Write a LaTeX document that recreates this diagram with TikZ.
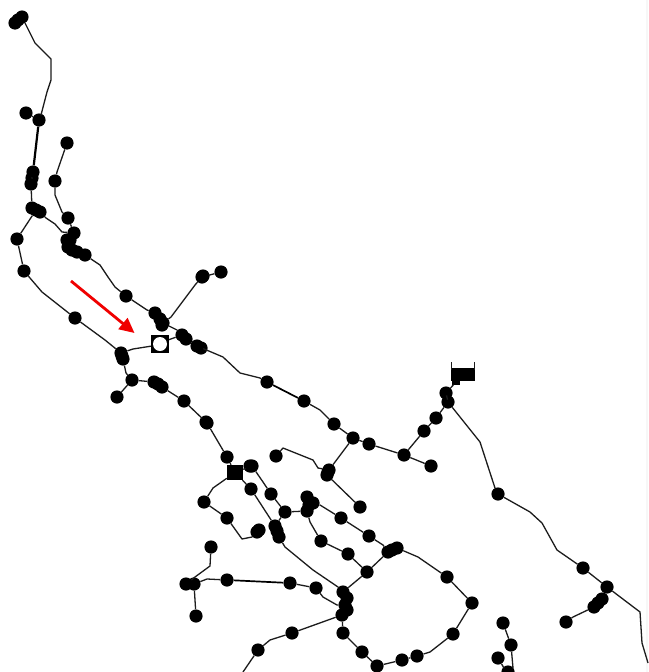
\documentclass[tikz,border=0pt]{standalone}
\usetikzlibrary{arrows.meta}
\definecolor{wire}{HTML}{1C1C1C}
\definecolor{mark}{HTML}{F00000}
\tikzset{
  dot/.style={circle,fill=black,inner sep=0pt,minimum size=13.2pt},
  wirepath/.style={draw=wire,line width=1.3pt,line join=round},
  heavywire/.style={draw=black,line width=2.2pt},
  hub/.style={rectangle,fill=black,inner sep=0pt},
  redarrow/.style={draw=mark,line width=2.8pt,-{Triangle[length=15pt,width=14pt]}},
  station/.style={rectangle,fill=black,inner sep=0pt,minimum size=18.5pt}
}
\begin{document}
\begin{tikzpicture}[x=1pt,y=-1pt]
\useasboundingbox (0,0) rectangle (648,672);
\fill[white] (0,0) rectangle (648,672);
\fill[black!3] (645.5,0) rectangle (648,672);
% stations
\foreach \n/\x/\y in {
 a1/22/17,a2/15/23,a2b/18/20,a3/26/113,a4/39/120,a5/33/172,a6/31/184,a5b/32/178,a7/32/208,a8/36/210,a9/40/212,
 a10/67/143,a11/55/181,a12/68/218,a13/74/233,a14/67/240,a15/68/247,a15b/70/240,a16/77/252,a17/85/255,a16b/72/250,
 a18/17/239,a19/24/271,a20/75/318,a21/126/296,a22/155/313,a23/160/319,a24/163/323,a24b/162/325,
 a25/202/277,a25b/203/276,a26/221/272,a27/182/335,a27b/186/339,a28/197/346,a28b/201/348,a29/267/382,a30/304/401,a31/334/424,
 a32/353/438,a33/329/470,a33m/328/472,a33b/327/475,a34/369/444,a35/404/455,a36/431/466,a37/424/431,a38/436/418,
 a39/448/402,a40/446/393,a41/498/494,a42/583/568,a43/607/587,a44/602/599,a44m/598/603,a45/594/607,a46/566/622,
 a47/503/623,a48/511/645,a49/498/658,a50/508/672,
 b1/121/353,b1m/122/356,b2/123/359,b3/132/380,b4/117/397,b5/154/382,b5m/158/384,b6/162/387,b7/184/401,b8/207/423,b8b/206/422,
 c1/227/457,c3/252/466,c3b/250/466,c4/251/489,c5/271/494,c6/285/512,c7/275/526,c7m/277/531,c7b/279/537,c8/257/532,c8b/259/530,
 c9/227/518,c10/204/502,c11/276/456,c12/360/507,c13/307/511,c14/313/503,c15/307/497,c16/309/505,c17/341/518,
 c18/369/536,c19/388/552,c19m/392/550,c20/397/548,c21/321/541,c22/348/554,c23/367/572,
 d1/343/592,d1a/347/598,d1b/345/605,d1d/347/610,d1c/342/615,e1/447/577,e2/472/603,e3/453/634,e4/417/656,
 e5/402/660,e6/377/666,e7/362/652,e8/343/633,f1/292/633,f2/258/650,
 d2/211/547,d3/186/584,d3b/194/584,d4/196/616,d5/227/580,d6/290/583,d7/316/588}
 {\node[dot] (\n) at (\x,\y) {};}
\node[hub,minimum width=16pt,minimum height=15pt] (c2) at (235,472.5) {};
\node[hub,minimum width=24pt,minimum height=13pt] (flag) at (463,374.5) {};
\node[hub,minimum width=8pt,minimum height=5pt] (flagb) at (456,382) {};
\coordinate (t1) at (451.5,362);
\coordinate (t2) at (474.5,362);
\coordinate (t1b) at (451.5,370);
\coordinate (t2b) at (474.5,370);
\draw[wirepath] (t1) -- (t1b);
\draw[wirepath] (t2) -- (t2b);
% connectors
\draw[wirepath] (a1) -- (30,33) -- (35,43) -- (51,59) -- (51,80) -- (47,92) -- (41,115) -- (a4);
\draw[wirepath] (a3) -- (a4);
\draw[heavywire] (a4) -- (a5);
\draw[wirepath] (a5) -- (a6) -- (a7);
\draw[wirepath] (a10) -- (57,172) -- (a11) -- (55,195) -- (62,212) -- (a12);
\draw[wirepath] (a12) -- (a13);
\draw[wirepath] (a9) -- (46,218) -- (55,224) -- (62,232) -- (a13);
\draw[wirepath] (a8) -- (a18) -- (a19) -- (42,292) -- (a20) -- (105,340) -- (b1);
\draw[wirepath] (a17) -- (100,265) -- (108,277) -- (115,287) -- (a21) -- (147,310) -- (a22);
\draw[wirepath] (a24) -- (171,317) -- (195,285) -- (a25) -- (a26);
\draw[wirepath] (a24) -- (177,330) -- (a27);
\draw[wirepath] (a28) -- (223,357) -- (240,373) -- (260,378) -- (a29);
\draw[heavywire,line width=1.7pt] (a29) -- (a30);
\draw[wirepath] (a30) -- (320,410) -- (a31) -- (a32) -- (a33);
\draw[wirepath] (a32) -- (a34) -- (a35) -- (a36);
\draw[wirepath] (a35) -- (a37) -- (a38) -- (a39) -- (a40) -- (flagb);
\draw[wirepath] (a39) -- (480,442) -- (495,488) -- (a41) -- (530,512) -- (542,523) -- (557,550) -- (a42) -- (a43) -- (640,612) -- (642,643) -- (648,663);
\draw[wirepath] (a45) -- (573,617) -- (a46);
\draw[wirepath] (a47) -- (a48) -- (513,668) -- (a50);
\draw[wirepath] (a49) -- (504,668) -- (a50);
\draw[wirepath] (b2) -- (126,373) -- (b3) -- (b4);
\draw[wirepath] (b3) -- (b5);
\draw[wirepath] (b6) -- (b7) -- (b8) -- (c1) -- (c2);
\draw[wirepath] (c11) -- (283,448) -- (313,460) -- (318,468) -- (a33);
\draw[wirepath] (a33b) -- (c12);
\draw[wirepath] (c2) -- (213,488) -- (c10) -- (c9) -- (242,539) -- (252,537) -- (c8);
\draw[wirepath] (c3) -- (263,482) -- (c5) -- (c6) -- (c13);
\draw[wirepath] (c2) -- (c4) -- (c7);
\draw[wirepath] (c2) -- (c3);
\draw[wirepath] (c6) -- (c7);
\draw[wirepath] (c7b) -- (285,547) -- (313,570) -- (338,587) -- (d1);
\draw[wirepath] (c14) -- (320,505) -- (c17) -- (c18) -- (383,545) -- (c19);
\draw[wirepath] (c13) -- (310,522) -- (c21) -- (c22) -- (c23);
\draw[wirepath] (c23) -- (c19);
\draw[wirepath] (c23) -- (d1);
\draw[wirepath] (c20) -- (418,557) -- (e1) -- (e2) -- (e3) -- (430,652) -- (e4) -- (e5) -- (e6) -- (e7) -- (e8) -- (d1c);
\coordinate (f3) at (243,672);
\draw[wirepath] (d1c) -- (f1) -- (270,640) -- (f2) -- (f3);
\draw[wirepath] (d2) -- (210,566) -- (195,577) -- (d3);
\draw[wirepath] (d3b) -- (207,579) -- (d5);
\draw[wirepath] (d3b) -- (d4);
\draw[heavywire,line width=1.7pt] (d5) -- (d6);
\draw[wirepath] (d6) -- (d7) -- (323,597) -- (337,605) -- (d1b);
% red arrow
\coordinate (r1) at (71,281);
\coordinate (r2) at (134.5,333);
\draw[redarrow] (r1) -- (r2);
% open station
\draw[wirepath] (b1) -- (133,349) -- (152,346);
\draw[wirepath] (168,340) -- (a27);
\node[station] (s) at (160,344) {};
\fill[white] (s.center) circle (7pt);
\end{tikzpicture}
\end{document}
